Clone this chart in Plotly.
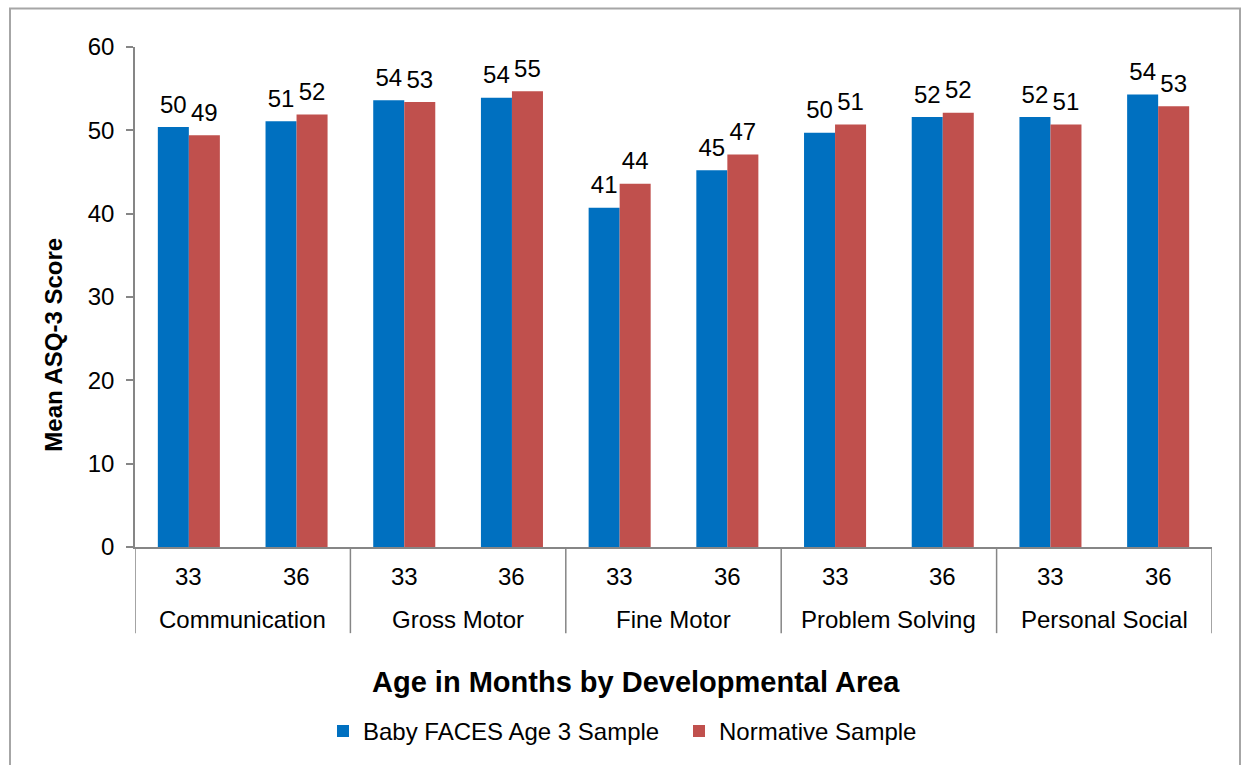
import plotly.graph_objects as go

# Developmental areas and child ages (months)
areas = ["Communication", "Gross Motor", "Fine Motor", "Problem Solving", "Personal Social"]
ages = ["33", "36"]

# Mean ASQ-3 scores, one value per area/age pair
baby_faces = [50.4, 51.1, 53.6, 53.9, 40.7, 45.2, 49.7, 51.6, 51.6, 54.3]
normative = [49.4, 51.9, 53.4, 54.7, 43.6, 47.1, 50.7, 52.1, 50.7, 52.9]

y_ticks = [0, 10, 20, 30, 40, 50, 60]

series = [
    ("Baby FACES Age 3 Sample", baby_faces, "#0070C0"),
    ("Normative Sample", normative, "#C0504D"),
]

x_outer = [a for a in areas for _ in ages]
x_inner = [g for _ in areas for g in ages]
n_cat = len(x_inner)
per_area = len(ages)

FONT = "Liberation Sans, Arial, sans-serif"
GRAY = "#868686"
GAP = 0.424

fig = go.Figure()
for name, vals, color in series:
    fig.add_trace(go.Bar(
        name=name, x=[x_outer, x_inner], y=vals,
        marker=dict(color=color, line=dict(width=0)),
    ))
# value labels sitting above each bar
for name, vals, color in series:
    fig.add_trace(go.Scatter(
        x=[x_outer, x_inner], y=vals, mode="markers+text",
        texttemplate="%{y:.0f}", textposition="top center",
        textfont=dict(family=FONT, size=24, color="#000000"),
        marker=dict(size=12, opacity=0, color=color),
        showlegend=False, hoverinfo="skip", cliponaxis=False,
    ))

# category slot indices along the x axis and the boundaries between areas
slot_pos = list(range(n_cat))
area_mid = [i * per_area + (per_area - 1) / 2 for i in range(len(areas))]
area_edges = [i * per_area - 0.5 for i in range(len(areas) + 1)]

# two-level category labels: ages on the first row, areas on the second
annotations = []
for pos, label in zip(slot_pos, x_inner):
    annotations.append(dict(
        text=label, xref="x", yref="paper", x=pos, y=-0.0585,
        xanchor="center", yanchor="middle", showarrow=False,
        font=dict(family=FONT, size=24, color="#000000")))
for pos, label in zip(area_mid, areas):
    annotations.append(dict(
        text=label, xref="x", yref="paper", x=pos, y=-0.1443,
        xanchor="center", yanchor="middle", showarrow=False,
        font=dict(family=FONT, size=24, color="#000000")))
annotations += [
    dict(text="<b>Mean ASQ-3 Score</b>", textangle=-90,
         xref="paper", yref="paper", x=(54 - 135) / 1077, y=0.4046,
         xanchor="center", yanchor="middle", showarrow=False,
         font=dict(family=FONT, size=24, color="#000000")),
    dict(text="<b>Age in Months by Developmental Area</b>",
         xref="paper", yref="paper", x=0.4652, y=-0.270,
         xanchor="center", yanchor="middle", showarrow=False,
         font=dict(family=FONT, size=29, color="#000000")),
]

shapes = [
    dict(type="line", xref="x", yref="paper", x0=e, x1=e, y0=0, y1=-0.1723,
         line=dict(color=GRAY, width=1.5))
    for e in area_edges
]
shapes.append(dict(
    type="rect", xref="paper", yref="paper",
    x0=(10 - 135) / 1077, x1=(1240 - 135) / 1077,
    y0=-0.46, y1=(547.7 - 8) / 501,
    line=dict(color="#A6A6A6", width=2), fillcolor="rgba(0,0,0,0)",
    layer="below"))

fig.update_layout(
    width=1243, height=765,
    margin=dict(l=135, r=31, t=47, b=217),
    paper_bgcolor="white", plot_bgcolor="white",
    barmode="group", bargap=GAP, bargroupgap=0,
    scattermode="group", scattergap=GAP,
    font=dict(family=FONT, size=24, color="#000000"),
    showlegend=True,
    legend=dict(
        orientation="h", x=(323 - 135) / 1077, xanchor="left",
        y=-0.366, yanchor="middle",
        font=dict(family=FONT, size=24, color="#000000"),
        entrywidth=311, entrywidthmode="pixels",
    ),
    xaxis=dict(
        type="multicategory", range=[-0.5, n_cat - 0.5],
        showline=True, linecolor=GRAY, linewidth=1.5,
        showgrid=False, ticks="", showticklabels=False, showdividers=False,
    ),
    yaxis=dict(
        range=[0, 60], tickvals=y_ticks,
        showline=True, linecolor=GRAY, linewidth=1.5,
        ticks="outside", ticklen=7, tickcolor=GRAY, tickwidth=1.5,
        showgrid=False, zeroline=False,
        tickfont=dict(family=FONT, size=24, color="#000000"),
        ticklabelstandoff=7,
    ),
    annotations=annotations,
    shapes=shapes,
)

fig.write_html("out.html")
